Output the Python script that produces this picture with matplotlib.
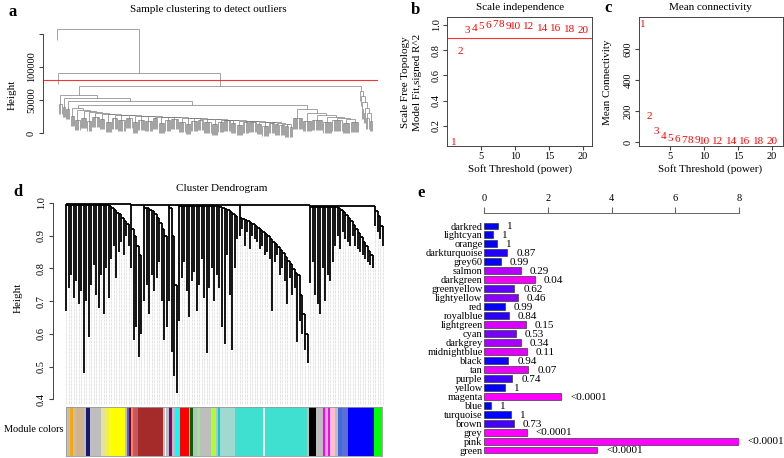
import numpy as np
import matplotlib
matplotlib.use("Agg")
import matplotlib.pyplot as plt
from matplotlib.collections import LineCollection

plt.rcParams['font.family'] = ['Liberation Serif', 'DejaVu Serif']

# ---------------- data ----------------
# a: sample clustering (heights of merges, leaf counts of small groups)
a_top_h = [157000, 90400, 71700]
a_cut = 80000
a_lb_join = [57600, 52500, 49000]
a_lb_h = [44000, 40000, 36000]
a_lb_n = [3, 3, 4]
a_core_h = 42400
a_bl_h = [26000, 20000, 23000, 18000, 24000, 21000, 17000, 22000, 19000, 23000, 16000, 20000,
          18000, 22000, 15000, 19000, 21000, 17000, 14000, 18000, 20000, 16000, 13000, 17000,
          19000, 15000, 12000, 16000, 17000, 14000, 11000, 15000, 13000, 12000, 10000, 9000]
a_bl_n = [4, 5, 6, 4, 7, 5, 6, 5, 7, 6, 5, 6, 7, 5, 6, 5, 7, 6, 5, 6, 5, 7, 6, 5, 6, 5,
          6, 5, 7, 5, 6, 5, 4, 5, 4, 3]
a_bl_join = [38000, 35000, 33000, 31500, 30500, 29500, 28500, 28000, 27500, 27000, 26500, 26000,
             25500, 25000, 24500, 24000, 23500, 23000, 22500, 22000, 21500, 21000, 20500, 20000,
             19500, 19000, 18500, 18000, 17500, 17000, 16500, 16000, 15000, 14000, 13000]
a_br_h = [22000, 18000, 20000, 16000, 19000, 15000, 17000]
a_br_n = [9, 8, 10, 8, 9, 7, 8]
a_br_join = [36000, 30000, 27000, 25000, 23000, 21000]
a_rs_h = [0, 0, 36000, 30000, 22000, 18000]
a_rs_n = [1, 1, 2, 2, 3, 3]
a_rs_join = [63600, 56000, 47000, 38000, 30000]
a_hang = 15500

# b / c: soft threshold
powers = [1, 2, 3, 4, 5, 6, 7, 8, 9, 10, 12, 14, 16, 18, 20]
fit_r2 = [0.07, 0.79, 0.955, 0.974, 0.984, 0.992, 1.0, 1.0, 0.99, 0.99,
          0.99, 0.974, 0.97, 0.962, 0.953]
mean_k = [759, 163, 66, 34, 22, 16, 12, 9, 7, 6, 4, 3, 2, 1.5, 1]

# d: gene dendrogram, clusters given as crown (merge) heights and leaf bottoms
d_crown = [
    [0.995, 0.995, 0.995, 0.995, 0.995, 0.995, 0.995, 0.995, 0.995, 0.995, 0.995, 0.995, 0.995,
     0.995, 0.995, 0.995, 0.995, 0.99, 0.985, 0.98, 0.97, 0.965, 0.955, 0.945, 0.935, 0.925],
    [0.92, 0.90, 0.87, 0.84, 0.80],
    [0.985, 0.985, 0.98, 0.975, 0.965, 0.955, 0.94, 0.92, 0.90, 0.88],
    [0.985, 0.90, 0.75, 0.60],
    [0.99, 0.99, 0.99, 0.99, 0.99, 0.99, 0.99, 0.99, 0.99, 0.99, 0.99, 0.99, 0.99, 0.99, 0.99,
     0.99, 0.988, 0.985, 0.982, 0.978, 0.972, 0.966, 0.96, 0.955],
    [0.955, 0.952, 0.948, 0.944, 0.94, 0.935, 0.93, 0.925, 0.918, 0.912, 0.905, 0.898, 0.89,
     0.882, 0.874, 0.866, 0.856, 0.846, 0.835, 0.824, 0.812, 0.798, 0.785, 0.78, 0.72, 0.66,
     0.60, 0.55],
    [0.988, 0.988, 0.988, 0.988, 0.988, 0.988, 0.988, 0.988, 0.988, 0.988, 0.988, 0.984, 0.978,
     0.971, 0.963, 0.954, 0.944, 0.933, 0.921, 0.908, 0.895, 0.881, 0.867, 0.853, 0.84, 0.83],
    [0.975, 0.96, 0.93, 0.90],
]
d_drop = [
    [0.67, 0.74, 0.78, 0.71, 0.76, 0.69, 0.73, 0.48, 0.70, 0.59, 0.75, 0.81, 0.72, 0.68, 0.78,
     0.66, 0.80, 0.71, 0.83, 0.87, 0.77, 0.85, 0.88, 0.84, 0.90, 0.87],
    [0.80, 0.58, 0.62, 0.53, 0.60],
    [0.70, 0.75, 0.66, 0.78, 0.73, 0.77, 0.82, 0.70, 0.58, 0.62],
    [0.70, 0.545, 0.47, 0.42],
    [0.64, 0.77, 0.82, 0.73, 0.65, 0.76, 0.79, 0.67, 0.75, 0.83, 0.71, 0.54, 0.74, 0.80, 0.70,
     0.78, 0.74, 0.62, 0.57, 0.84, 0.72, 0.55, 0.80, 0.89],
    [0.90, 0.92, 0.87, 0.91, 0.86, 0.90, 0.89, 0.88, 0.86, 0.87, 0.84, 0.85, 0.83, 0.67, 0.82,
     0.84, 0.78, 0.80, 0.76, 0.69, 0.77, 0.72, 0.74, 0.575, 0.64, 0.60, 0.55, 0.51],
    [0.755, 0.82, 0.72, 0.69, 0.66, 0.80, 0.70, 0.78, 0.76, 0.82, 0.87, 0.90, 0.86, 0.91, 0.89,
     0.88, 0.87, 0.90, 0.87, 0.86, 0.85, 0.84, 0.83, 0.82, 0.81, 0.80],
    [0.93, 0.91, 0.89, 0.87],
]
d_top = [0.997, 0.995, 0.995, 0.995, 0.995, 0.995, 0.99, 0.988]

module_colors = ['#BEBEBE', 'orange', '#BEBEBE', 'tan', '#BEBEBE', 'midnightblue', '#BEBEBE',
                 '#9370DB', '#BEBEBE', '#E6E29A', '#EEEE55', 'yellow', '#BEBEBE', 'royalblue',
                 '#8B0000', 'salmon', '#C25A5A', 'brown', '#BEBEBE', '#E0FFFF', '#BEBEBE',
                 'purple', '#BEBEBE', 'cyan', 'red', '#BEBEBE', 'darkgreen', '#BEBEBE',
                 'lightgreen', '#BEBEBE', 'greenyellow', '#BEBEBE', 'darkturquoise', '#9FD9D0',
                 'turquoise', '#E8FFFF', 'turquoise', '#BEBEBE', 'black', '#BEBEBE', 'magenta',
                 '#BEBEBE', 'magenta', 'pink', '#BEBEBE', 'royalblue', '#5A6FD0', 'blue', '#00FF00']
module_sizes = [12, 10, 7, 25, 6, 12, 10, 2, 18, 15, 10, 48, 5, 7, 4, 8, 13, 73, 6, 5, 7,
                9, 10, 15, 25, 5, 8, 10, 10, 32, 15, 7, 6, 42, 85, 6, 124, 5, 20, 20, 8,
                8, 6, 14, 10, 10, 20, 74, 25]

# e: module enrichment
modules_e = ['darkred', 'lightcyan', 'orange', 'darkturquoise', 'grey60', 'salmon', 'darkgreen',
             'greenyellow', 'lightyellow', 'red', 'royalblue', 'lightgreen', 'cyan', 'darkgrey',
             'midnightblue', 'black', 'tan', 'purple', 'yellow', 'magenta', 'blue', 'turquoise',
             'brown', 'grey', 'pink', 'green']
score_e = [0.44, 0.28, 0.41, 0.73, 0.53, 1.15, 1.60, 0.95, 1.06, 0.65, 0.79, 1.32, 1.01, 1.16,
           1.35, 0.76, 1.39, 0.89, 0.67, 2.43, 0.21, 0.86, 0.94, 1.34, 7.99, 3.55]
pval_e = [1, 1, 1, 0.87, 0.99, 0.29, 0.04, 0.62, 0.46, 0.99, 0.84, 0.15, 0.53, 0.34, 0.11,
          0.94, 0.07, 0.74, 1, 0, 1, 1, 0.73, 0, 0, 0]
ptext_e = ['1', '1', '1', '0.87', '0.99', '0.29', '0.04', '0.62', '0.46', '0.99', '0.84', '0.15',
           '0.53', '0.34', '0.11', '0.94', '0.07', '0.74', '1', '<0.0001', '1', '1', '0.73',
           '<0.0001', '<0.0001', '<0.0001']

# ---------------- helpers ----------------
W, H = 784, 458
fig = plt.figure(figsize=(W / 100, H / 100), dpi=100)


def add_ax(x0, y0, x1, y1):
    return fig.add_axes([x0 / W, 1 - y1 / H, (x1 - x0) / W, (y1 - y0) / H])


def put(x, y, s, **kw):
    fig.text(x / W, 1 - y / H, s, **kw)


def comb(h, n):
    return ('comb', h, n)


def ladder(joins, subs):
    node = subs[-1]
    for h, s in zip(joins[::-1], subs[-2::-1]):
        node = [h, s, node]
    return node


def draw_tree(node, start, hang, segs):
    if isinstance(node, tuple):
        _, h, n = node
        if n == 1:
            return start, None, start + 1
        xs = start + np.arange(n)
        segs.append([(xs[0], h), (xs[-1], h)])
        for x in xs:
            segs.append([(x, h - hang), (x, h)])
        return (xs[0] + xs[-1]) / 2, h, start + n
    h, left, right = node
    lx, lh, start = draw_tree(left, start, hang, segs)
    rx, rh, start = draw_tree(right, start, hang, segs)
    lh = h - hang if lh is None else lh
    rh = h - hang if rh is None else rh
    segs += [[(lx, lh), (lx, h)], [(rx, rh), (rx, h)], [(lx, h), (rx, h)]]
    return (lx + rx) / 2, h, start


def r_yticks(ax, ticks, labels):
    ax.set_yticks(ticks, labels=labels)
    for t in ax.get_yticklabels():
        t.set_rotation(90)
        t.set_va('center')


FS = 7.5
LET = dict(fontsize=12, fontweight='bold', ha='center', va='center')

# ---------------- a ----------------
big_left = ladder(a_bl_join, [comb(h, n) for h, n in zip(a_bl_h, a_bl_n)])
big_right = ladder(a_br_join, [comb(h, n) for h, n in zip(a_br_h, a_br_n)])
right_small = ladder(a_rs_join, [comb(h, n) for h, n in zip(a_rs_h, a_rs_n)])
left_block = ladder(a_lb_join, [comb(h, n) for h, n in zip(a_lb_h, a_lb_n)]
                    + [[a_core_h, big_left, big_right]])
tree_a = [a_top_h[0], comb(0, 1), [a_top_h[1], comb(0, 1), [a_top_h[2], left_block, right_small]]]

ax = add_ax(43, 20, 378, 140)
segs = []
_, _, n_a = draw_tree(tree_a, 0, a_hang, segs)
ax.add_collection(LineCollection(segs, colors='#6e6e6e', linewidths=0.45))
sp = (372 - 57) / (n_a - 1)
ax.set_xlim((43 - 57) / sp, (378 - 57) / sp)
ax.set_ylim(-10600, 171200)
ax.axhline(a_cut, color='#ff3030', lw=0.8)
for s in ['top', 'right', 'bottom']:
    ax.spines[s].set_visible(False)
ax.spines['left'].set_bounds(0, 150000)
ax.spines['left'].set_color('#444444')
ax.spines['left'].set_linewidth(0.7)
ax.set_xticks([])
r_yticks(ax, [0, 50000, 100000, 150000], ['0', '50000', '100000', ''])
ax.tick_params(axis='y', labelsize=FS, length=3, pad=2, color='#444444')
put(12, 95, 'Height', rotation=90, fontsize=FS + 0.5, ha='center', va='center')
put(208, 10, 'Sample clustering to detect outliers', fontsize=FS + 0.5, ha='center', va='center')
put(13, 12, 'a', **LET)

# ---------------- b ----------------
ax = add_ax(447, 17, 592, 146)
for p, v in zip(powers, fit_r2):
    ax.text(p, v, str(p), color='red', ha='center', va='center', fontsize=8)
ax.axhline(0.9, color='#ff3030', lw=0.8)
ax.set_xlim(-0.03, 21.3)
ax.set_ylim(0.04, 1.063)
ax.set_xticks([5, 10, 15, 20])
r_yticks(ax, [0.2, 0.4, 0.6, 0.8, 1.0], ['0.2', '0.4', '0.6', '0.8', '1.0'])
ax.tick_params(labelsize=FS, length=3, pad=1.5, color='#444444')
for s in ax.spines.values():
    s.set_color('#444444')
    s.set_linewidth(0.7)
put(520, 8, 'Scale independence', fontsize=FS + 0.5, ha='center', va='center')
put(520, 169, 'Soft Threshold (power)', fontsize=FS + 0.5, ha='center', va='center')
put(405, 82, 'Scale Free Topology', rotation=90, fontsize=FS + 0.5, ha='center', va='center')
put(418, 82, 'Model Fit,signed R^2', rotation=90, fontsize=FS + 0.5, ha='center', va='center')
put(415, 10, 'b', **LET)

# ---------------- c ----------------
ax = add_ax(639, 17, 783, 146)
for p, v in zip(powers, mean_k):
    ax.text(p, v, str(p), color='red', ha='center', va='center', fontsize=8)
ax.set_xlim(0.41, 21.6)
ax.set_ylim(-26, 806)
ax.set_xticks([5, 10, 15, 20])
r_yticks(ax, [0, 200, 400, 600], ['0', '200', '400', '600'])
ax.tick_params(labelsize=FS, length=3, pad=1.5, color='#444444')
for s in ax.spines.values():
    s.set_color('#444444')
    s.set_linewidth(0.7)
put(710, 8, 'Mean connectivity', fontsize=FS + 0.5, ha='center', va='center')
put(710, 169, 'Soft Threshold (power)', fontsize=FS + 0.5, ha='center', va='center')
put(608, 82, 'Mean Connectivity', rotation=90, fontsize=FS + 0.5, ha='center', va='center')
put(608, 8, 'c', **LET)

# ---------------- d ----------------
ax = add_ax(53, 200, 385, 405)
n_d = sum(len(c) for c in d_crown)
sp = (383 - 66) / (n_d - 1)
ylo = 1 - (405 - 203) / 327
black, guides = [], []
start = 0
firsts = []
for crown, drop in zip(d_crown, d_drop):
    xs = start + np.arange(len(crown))
    firsts.append(xs[0])
    for i, x in enumerate(xs):
        black.append([(x, drop[i]), (x, crown[i])])
        guides.append([(x, ylo), (x, drop[i])])
        if i + 1 < len(xs):
            black.append([(x, crown[i]), (xs[i + 1], crown[i])])
            black.append([(xs[i + 1], crown[i]), (xs[i + 1], crown[i + 1])])
    start += len(crown)
for k, x0 in enumerate(firsts):
    black.append([(x0, d_crown[k][0]), (x0, d_top[k])])
    if k + 1 < len(firsts):
        black.append([(x0, d_top[k]), (firsts[k + 1], d_top[k])])
        black.append([(firsts[k + 1], d_top[k]), (firsts[k + 1], d_top[k + 1])])
ax.add_collection(LineCollection(guides, colors='#c4c4c4', linewidths=0.5, linestyles=(0, (1, 1))))
ax.add_collection(LineCollection(black, colors='black', linewidths=1.3))
ax.set_xlim((53 - 66) / sp, (385 - 66) / sp)
ax.set_ylim(ylo, 1 + 3 / 327)
for s in ['top', 'right', 'bottom']:
    ax.spines[s].set_visible(False)
ax.spines['left'].set_bounds(0.4, 1.0)
ax.spines['left'].set_color('#444444')
ax.spines['left'].set_linewidth(0.7)
ax.set_xticks([])
r_yticks(ax, [0.4, 0.5, 0.6, 0.7, 0.8, 0.9, 1.0], ['0.4', '0.5', '0.6', '0.7', '0.8', '0.9', '1.0'])
ax.tick_params(axis='y', labelsize=FS, length=3, pad=2, color='#444444')
put(18, 298, 'Height', rotation=90, fontsize=FS + 0.5, ha='center', va='center')
put(222, 188, 'Cluster Dendrogram', fontsize=FS + 0.5, ha='center', va='center')
put(18, 192, 'd', **LET)

# module colour bar
ax = add_ax(66, 407, 382, 456)
lefts = np.concatenate([[0], np.cumsum(module_sizes)[:-1]])
ax.bar(lefts, 1, width=module_sizes, align='edge', color=module_colors, linewidth=0)
ax.set_xlim(0, sum(module_sizes))
ax.set_ylim(0, 1)
ax.set_xticks([])
ax.set_yticks([])
for s in ax.spines.values():
    s.set_color('#999999')
    s.set_linewidth(0.6)
put(64, 430, 'Module colors', fontsize=7.4, ha='right', va='center')

# ---------------- e ----------------
ax = add_ax(484, 213, 739, 456)
ypos = np.arange(len(modules_e))
bar_cols = [(1 - p, 0, 1) for p in pval_e]
ax.barh(ypos, score_e, height=0.78, color=bar_cols, edgecolor='#3a3a3a', linewidth=0.5)
for i, (v, t) in enumerate(zip(score_e, ptext_e)):
    ax.text(v + 0.28, i + 0.1, t, ha='left', va='center', fontsize=8, clip_on=False)
step = (450 - 226) / 25
ax.set_xlim(0, 8)
ax.set_ylim(25 + 6 / step, -13 / step)
ax.set_yticks(ypos, labels=modules_e)
ax.tick_params(axis='y', length=0, pad=1, labelsize=FS)
ax.xaxis.tick_top()
ax.set_xticks([0, 2, 4, 6, 8])
ax.tick_params(axis='x', labelsize=FS, length=4, pad=3, color='#666666')
for s in ['bottom', 'left', 'right']:
    ax.spines[s].set_visible(False)
ax.spines['top'].set_color('#666666')
ax.spines['top'].set_linewidth(0.7)
put(421, 193, 'e', **LET)

fig.savefig('out.png', dpi=100)
